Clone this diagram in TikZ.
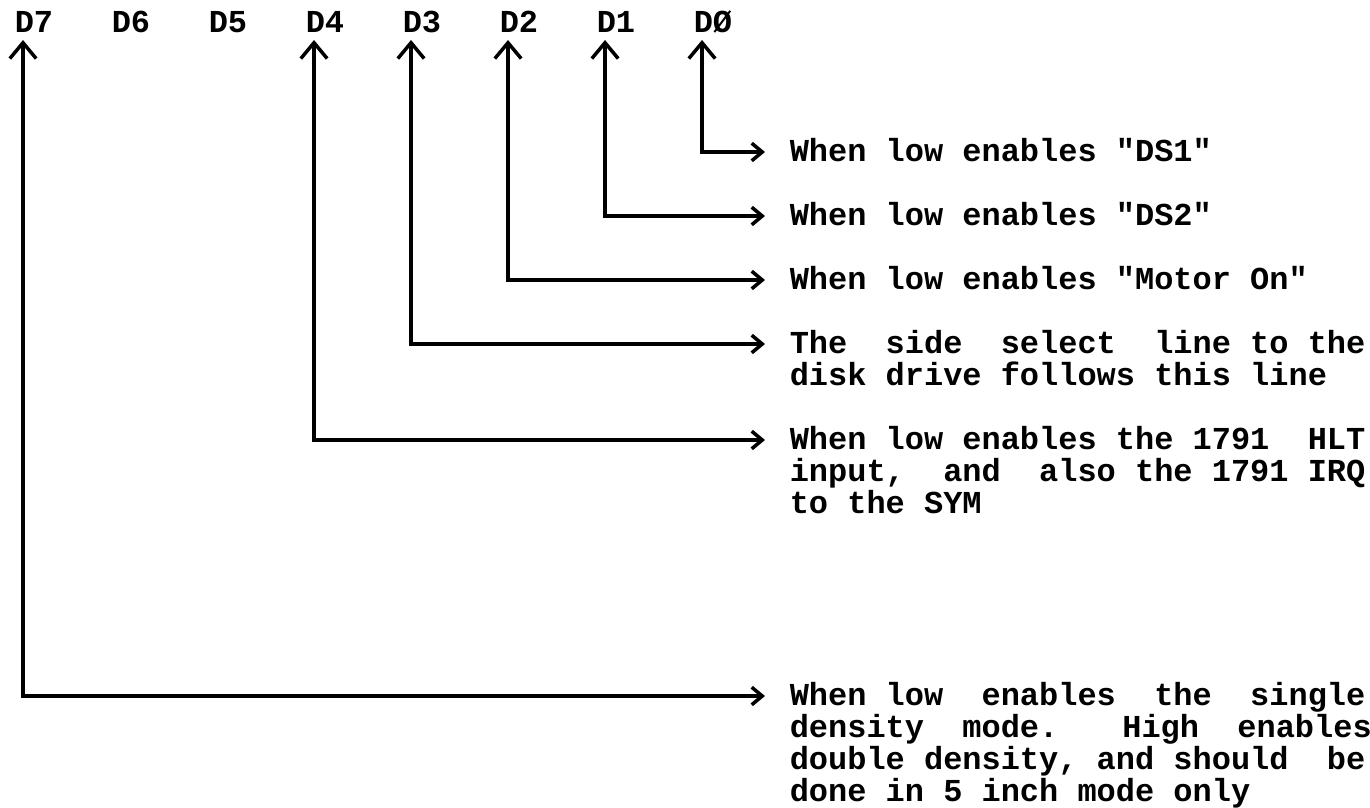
\documentclass[tikz,border=0pt]{standalone}
\usepackage{fontspec}
\newfontfamily\dotfont{Liberation Mono}
\usetikzlibrary{arrows.meta}

\begin{document}
\begin{tikzpicture}[x=0.02cm,y=-0.02cm,line width=2pt,
  every node/.style={font=\dotfont\bfseries\fontsize{18.2pt}{18.21pt}\selectfont,inner sep=0pt,anchor=base west,align=left},
  sig/.style={{Straight Barb[length=9pt,width=15pt]}-{Straight Barb[length=6pt,width=10pt]}}]
\useasboundingbox (0,0) rectangle (1370,808);
% data bits
\node(d7) at (13,32){D7};
\node(d6) at (110,32){D6};
\node(d5) at (207,32){D5};
\node(d4) at (304,32){D4};
\node(d3) at (401,32){D3};
\node(d2) at (498,32){D2};
\node(d1) at (595,32){D1};
\node(d0) at (692,32){DØ};
% what each bit does (base = last line, 32 per line)
\node(t0) at (788,161){When low enables "DS1"};
\node(t1) at (788,225){When low enables "DS2"};
\node(t2) at (788,289){When low enables "Motor On"};
\node(t3) at (788,385){The~ side~ select~ line to the\\disk drive follows this line};
\node(t4) at (788,513){When low enables the 1791~ HLT\\input,~ and~ also the 1791 IRQ\\to the SYM};
\node(t7) at (788,801){When low~ enables~ the~ single\\density~ mode.~~ High~ enables\\double density, and should~ be\\done in 5 inch mode only};
\draw[sig]([shift={(10,8)}]d0.base west)|-([shift={(-23,-9)}]t0.base west);
\draw[sig]([shift={(10,8)}]d1.base west)|-([shift={(-23,-9)}]t1.base west);
\draw[sig]([shift={(10,8)}]d2.base west)|-([shift={(-23,-9)}]t2.base west);
\draw[sig]([shift={(10,8)}]d3.base west)|-([shift={(-23,-41)}]t3.base west);
\draw[sig]([shift={(10,8)}]d4.base west)|-([shift={(-23,-73)}]t4.base west);
\draw[sig]([shift={(10,8)}]d7.base west)|-([shift={(-23,-105)}]t7.base west);
\end{tikzpicture}
\end{document}
